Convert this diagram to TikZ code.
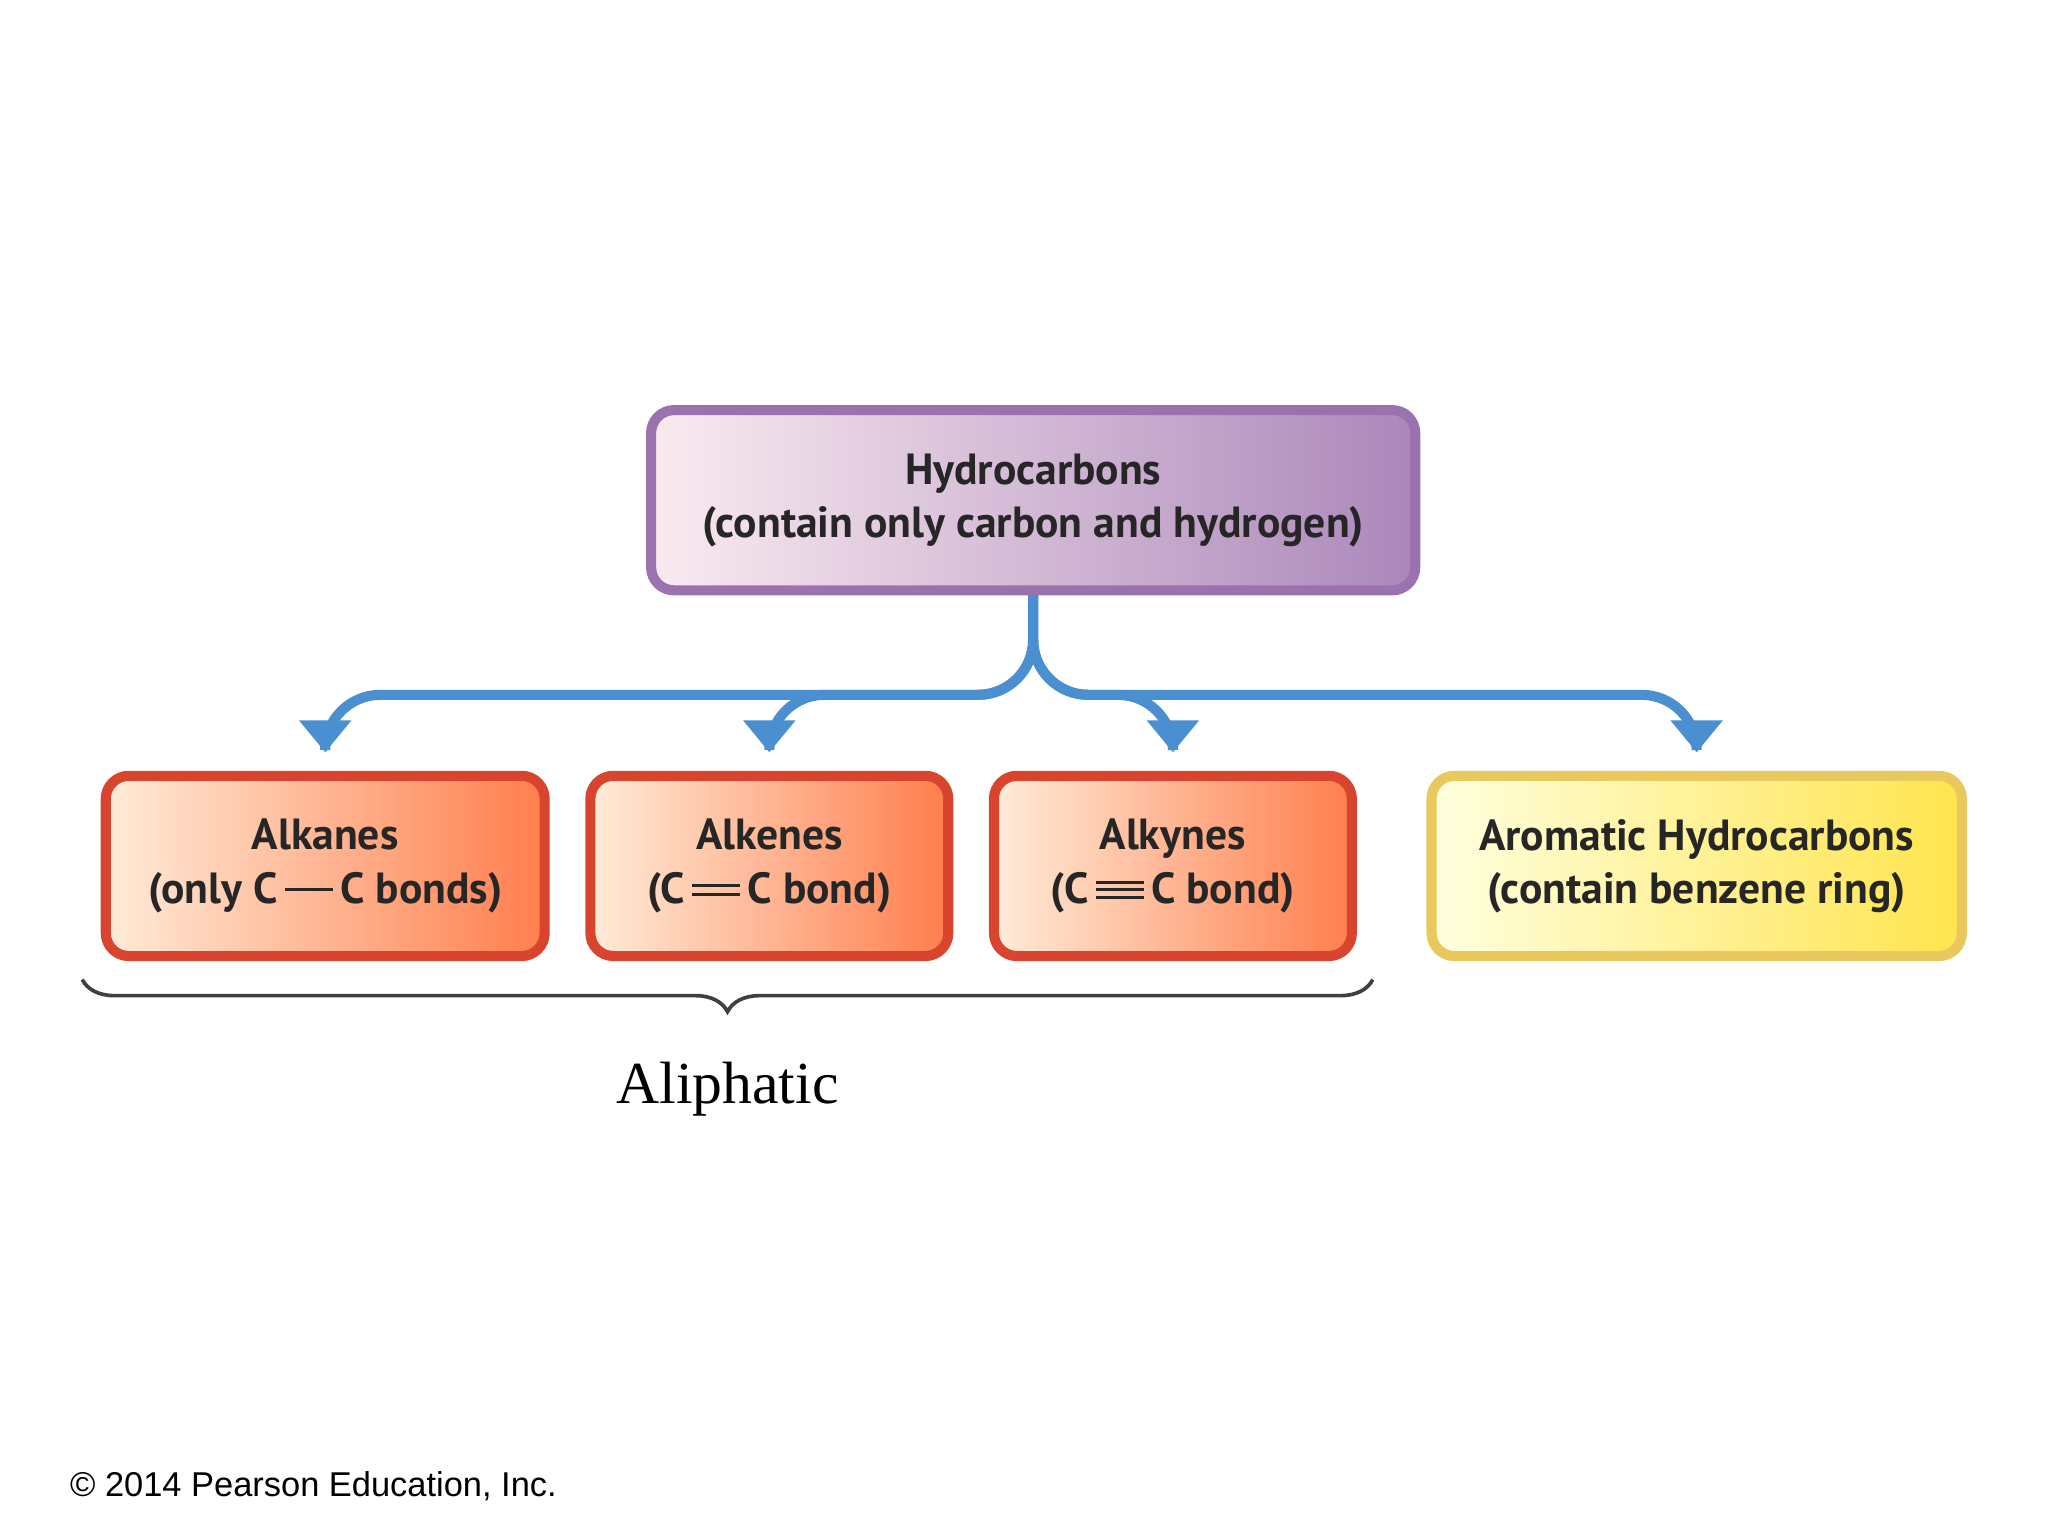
\documentclass[tikz,border=0pt]{standalone}
\usepackage{fontspec}
\setmainfont{PT Sans}
\newfontfamily\serifface{Liberation Serif}
\newfontfamily\copyface{Liberation Sans}
\usetikzlibrary{arrows.meta, positioning, decorations.pathreplacing}
\definecolor{branch}{HTML}{4A8FD0}
\definecolor{purpleedge}{HTML}{9C72AE}
\definecolor{rededge}{HTML}{D9442E}
\definecolor{yellowedge}{HTML}{E9C95E}
\newcommand{\sbond}{\rule[0.55ex]{1.1em}{0.13ex}}
\newcommand{\dbond}{\makebox[0pt][l]{\rule[0.35ex]{1.1em}{0.13ex}}\rule[0.75ex]{1.1em}{0.13ex}}
\newcommand{\tbond}{\makebox[0pt][l]{\rule[0.2ex]{1.1em}{0.13ex}}\makebox[0pt][l]{\rule[0.55ex]{1.1em}{0.13ex}}\rule[0.9ex]{1.1em}{0.13ex}}
\begin{document}
\begin{tikzpicture}[
        x=1cm, y=1cm,
        font=\bfseries\fontsize{9.5}{11.6}\selectfont,
        box/.style={rounded corners=5pt, line width=2.2pt, align=center, minimum height=1.38cm, text=black!85},
        topbox/.style={box, draw=purpleedge, left color=purple!8, right color=purpleedge!85},
        redbox/.style={box, draw=rededge, left color=orange!15, right color=red!45!orange!70},
        yellowbox/.style={box, draw=yellowedge, left color=yellow!12, right color=yellow!70!orange!70},
        branch/.style={draw=branch, line width=2.2pt, rounded corners=12pt, -{Triangle[length=7pt,width=11pt]}, shorten >=4pt}
    ]
        \useasboundingbox (0,0) rectangle (15.68,11.76);

        % Top and second row
        \node (hydro) [topbox, minimum width=5.85cm] at (7.91,7.93) {Hydrocarbons\\(contain only carbon and hydrogen)};
        \node (alkanes) [redbox, minimum width=3.36cm] at (2.49,5.13) {Alkanes\\(only C\,\sbond\,C bonds)};
        \node (alkenes) [redbox, minimum width=2.74cm] at (5.89,5.13) {Alkenes\\(C\,\dbond\,C bond)};
        \node (alkynes) [redbox, minimum width=2.74cm] at (8.98,5.13) {Alkynes\\(C\,\tbond\,C bond)};
        \node (aromatic) [yellowbox, minimum width=4.06cm] at (12.99,5.13) {Aromatic Hydrocarbons\\(contain benzene ring)};

        % Branching arrows
        \coordinate (fork) at (7.91,6.44);
        \foreach \target in {alkanes, alkenes, alkynes, aromatic}
            \draw[branch] (hydro.south) -- (fork) -| (\target.north);

        % Brace and labels
        \coordinate (bl) at (0.63,4.26);
        \coordinate (br) at (10.51,4.26);
        \draw[black!75, line width=0.8pt, decorate, decoration={brace, mirror, amplitude=7pt}] (bl) -- (br);
        \node (aliphatic) at (5.57,3.42) {\serifface\mdseries\fontsize{13}{15}\selectfont Aliphatic};
        \node (copy) [anchor=west, inner sep=0pt] at (0.53,0.38) {\copyface\mdseries\fontsize{7.5}{9}\selectfont \textcopyright\ 2014 Pearson Education, Inc.};
    \end{tikzpicture}
\end{document}
